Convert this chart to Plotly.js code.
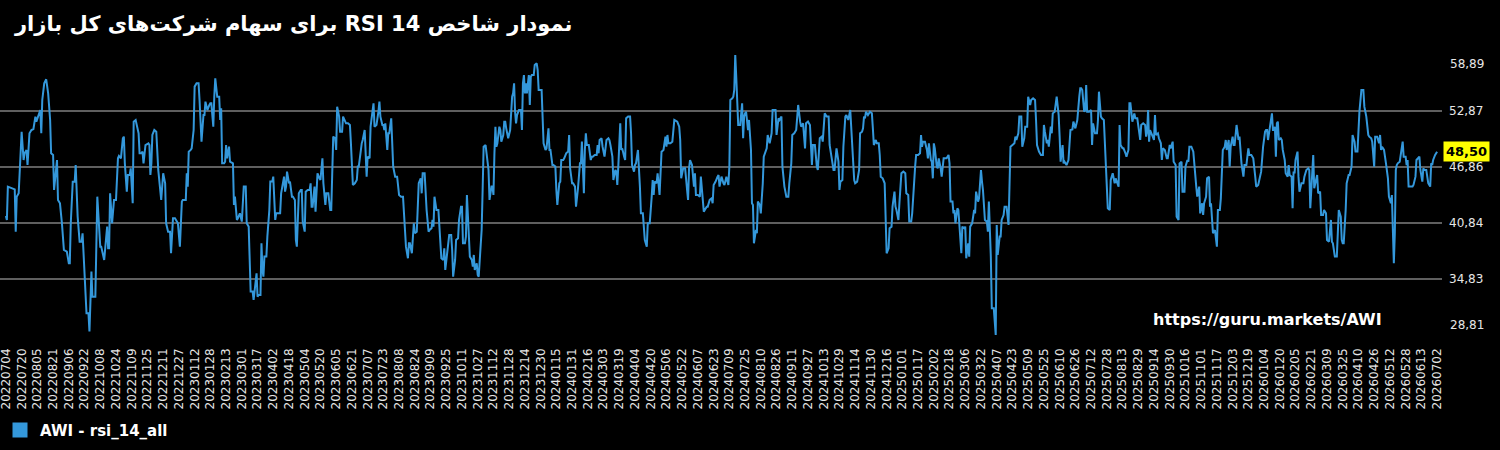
<!DOCTYPE html>
<html>
<head>
<meta charset="utf-8">
<script src="https://cdn.plot.ly/plotly-3.0.1.min.js"></script>
<style>html,body{margin:0;padding:0;background:#000;}#chart{width:1500px;height:450px;}</style>
</head>
<body>
<div id="chart"></div>
<script>
// Tick labels (one every 16 sessions, the last one is the final session)
const tickLabels = [
"20220704","20220720","20220805","20220821","20220906","20220922","20221008","20221024","20221109","20221125","20221211","20221227",
"20230112","20230128","20230213","20230301","20230317","20230402","20230418","20230504","20230520","20230605","20230621","20230707","20230723","20230808","20230824","20230909","20230925","20231011","20231027","20231112","20231128","20231214","20231230",
"20240115","20240131","20240216","20240303","20240319","20240404","20240420","20240506","20240522","20240607","20240623","20240709","20240725","20240810","20240826","20240911","20240927","20241013","20241029","20241114","20241130","20241216",
"20250101","20250117","20250202","20250218","20250306","20250322","20250407","20250423","20250509","20250525","20250610","20250626","20250712","20250728","20250813","20250829","20250914","20250930","20251016","20251101","20251117","20251203","20251219",
"20260104","20260120","20260205","20260221","20260309","20260325","20260410","20260426","20260512","20260528","20260613","20260702"
];
const sessionsPerTick = 16;

// Session index of each read point
const sessionIndex = [
0,1,2,8,9,10,11,13,14,16, 18,19,21,22,24,26,28,30,31,33, 35,36,37,39,41,43,45,46,48,49, 52,53,55,57,59,62,64,65,66,68,
70,71,73,75,77,78,80,82,84,85, 87,88,91,93,96,97,100,101,103,104, 105,106,108,110,112,114,115,117,119,120, 121,123,124,126,127,129,130,132,133,135,
136,138,139,140,142,145,146,147,148,149, 151,153,155,157,158,160,162,163,165,167, 168,170,172,175,177,179,180,
183,184,185,186,188,189,191,192,194,196, 197,199,201,202,203,205,207,208,209,211, 212,213,215,217,218,219,220,222,223,224, 225,227,228,230,231,232,233,235,236,238,
239,240,242,244,245,247,249,251,252,253, 255,256,257,259,260,261,262,263,265,266, 268,269,271,272,274,275,279,280,281,283, 284,285,286,288,289,291,292,294,295,296,
298,300,301,302,304,305,307,309,310,311, 312,314,315,317,319,320,322,323,325,326, 328,330,331,332,333,335,336,337,339,340, 342,343,345,346,348,350,351,353,355,357, 358,359,
362,363,365,366,367,368,370,371,374,375, 377,379,380,381,383,384,385,386,388,389, 390,392,393,394,396,398,400,402,404,406, 407,409,410,411,413,415,416,418,419,420,
422,423,424,426,428,430,431,433,434,435, 436,438,440,441,443,445,446,447,449,451, 453,454,455,457,458,460,461,463,464,465, 467,468,469,470,472,474,475,476,477,479,
480,481,483,484,485,486,488,490,491,492, 494,495,496,497,498,499,500,502,503,504, 506,507,508,509,511,513,514,515,516,517, 518,519,520,522,524,525,526,527,528,529,
530,532,533,534,535,537,538,540,541,542, 543,545,546,547,
549,550,552,553,554,556,557,559,560,561, 563,564,565,567,568,570,572,573,574,576, 577,579,580,581,582,584,585,586,588,589, 590,591,593,595,596,597,599,601,602,603,
604,606,607,609,611,613,614,615,617,618, 620,621,622,623,625,626,627,629,630,631, 633,635,636,637,639,640,641,643,644,645, 646,648,650,652,653,655,657,658,659,660,
662,663,665,666,667,669,671,672,673,674, 676,678,679,680,683,685,686,687,689,691, 693,694,695,696,698,699,700,701,702,704, 706,707,709,710,711,713,714,716,718,719,
720,722,724,725,726,728,730,
731,733,735,736,737,739,740,741,742,743, 744,745,747,748,749,750,751,752,753,755, 756,758,759,760,761,763,764,765,767,768, 770,771,773,774,775,777,779,780,782,783,
784,786,787,789,790,792,794,796,797,799, 800,802,804,805,806,808,809,811,813,814, 816,818,819,820,821,823,825,826,828,830, 831,833,835,837,838,840,842,843,845,847,
848,849,851,852,854,855,857,859,860,861, 863,864,866,868,869,871,872,873,874,875, 877,879,881,882,883,885,886,888,889,890, 892,894,895,896,898,899,901,902,904,905,
906,908,909,911,913,
915,916,918,919,921,922,924,925,926,928, 930,931,932,933,935,937,938,939,941,942, 943,944,945,947,948,949,951,952,954,955, 957,959,960,961,963,964,965,966,968,969,
971,972,973,975,976,977,979,980,981,983, 985,986,987,989,990,992,993,994,996,998, 999,1000,1002,1003,1005,1007,1008,1009,1011,1012, 1013,1015,1016,1018,1020,1021,1022,1024,1026,1027,
1028,1030,1031,1033,1034,1036,1037,1039,1040,1042, 1043,1045,1047,1048,1049,1051,1053,1055,1056,1057, 1059,1060,1061,1063,1064,1065,1067,1069,1071,1072, 1073,1075,1076,1077,1079,1081,1082,1083,1085,1086,
1088,1090,1092,1093,1094,1095,1097,
1098,1099,1100,1102,1104,1105,1106,1108,1110,1111, 1112,1114,1115,1117,1118,1120,1121,1123,1124,1126, 1128,1129,1131,1132,1133,1134,1136,1137,1139,1140, 1142,1143,1144,1146,1148,1149,1151,1153,1154,1155,
1157,1159,1160,1161,1162,1163,1164,1166,1168,1169, 1170,1172,1173,1175,1176,1177,1179,1181,1182,1184, 1185,1187,1188,1190,1191,1193,1194,1196,1197,1199, 1200,1202,1203,1204,1206,1208,1210,1211,1212,1214,
1215,1217,1218,1219,1221,1222,1224,1225,1226,1228, 1230,1232,1233,1235,1236,1237,1238,1240,1241,1242, 1244,1245,1246,1248,1249,1250,1252,1254,1255,1257, 1259,1260,1262,1264,1265,1267,1269,1271,1272,1274,
1276,1277,1279,1281,
1282,1283,1284,1285,1286,1288,1289,1290,1291,1292, 1293,1294,1295,1297,1298,1299,1301,1302,1304,1305, 1306,1308,1309,1310,1311,1312,1314,1315,1316,1318, 1320,1321,1323,1325,1326,1327,1329,1330,1331,1333,
1334,1335,1337,1338,1340,1341,1343,1344,1346,1348, 1349,1350,1352,1354,1355,1356,1358,1359,1360,1361, 1363,1364,1366,1367,1369,1370,1372,1373,1375,1376, 1377,1379,1381,1382,1384,1386,1387,1389,1390,1392,
1393,1395,1397,1398,1399,1400,1402,1404,1406,1407, 1409,1410,1411,1412,1413,1414,1415,1416,1418,1419, 1421,1422,1424,1425,1426,1427,1429,1431,1432,1434, 1435,1437,1438,1439,1441,1442,1443,1445,1446,1447,
1449,1450,1451,1452,1454,1456
];

// RSI 14 values
const rsiValues = [
41.60,41.17,44.75,44.57,44.46,39.91,43.67,44.03,46.90,50.65, 47.61,48.33,48.69,47.07,50.48,50.83,50.94,52.27,51.73,52.44, 52.98,50.48,54.06,55.85,56.28,54.77,51.91,48.33,48.15,44.39, 47.61,43.32,42.96,40.81,37.95,37.77,36.51,36.51,40.81,45.28,
45.28,47.07,41.53,38.84,38.84,39.74,35.80,31.14,31.14,29.18, 35.62,32.93,32.93,43.67,38.30,38.30,36.87,37.95,40.45,38.12, 38.12,44.03,40.81,43.32,43.32,47.79,48.04,47.79,49.94,50.12, 47.25,44.21,46.00,46.00,46.72,42.96,51.73,51.91,51.37,50.48,
48.33,48.33,48.51,47.25,49.22,49.40,49.22,46.00,47.25,50.30, 50.83,50.65,46.54,44.03,43.32,46.18,45.11,40.81,39.91,39.91, 37.59,41.35,41.35,40.81,38.30,43.14,43.32,
43.32,46.18,44.75,48.51,48.69,48.86,50.83,55.49,55.85,55.85, 54.06,49.58,52.44,52.44,53.88,52.98,53.52,53.70,53.70,51.19, 54.41,56.38,54.41,54.41,51.91,53.16,47.25,47.25,47.43,49.22, 47.79,49.04,47.43,47.25,47.25,42.78,43.67,41.17,41.35,41.88,
41.35,40.99,44.75,44.75,40.81,40.45,33.47,33.47,32.57,33.47, 35.44,32.93,33.11,33.11,38.66,35.80,35.08,37.23,37.23,39.38, 42.24,45.29,45.29,45.82,41.17,41.88,41.88,44.03,44.75,45.82, 44.21,44.75,46.36,45.11,45.29,43.67,43.67,43.32,39.02,38.30,
44.03,44.39,44.39,40.99,39.91,44.21,44.39,44.39,45.11,42.60, 42.60,44.75,42.06,46.18,45.64,45.46,47.79,45.11,42.78,44.03, 44.03,42.24,42.24,46.54,50.12,49.94,48.69,53.34,52.27,50.65, 50.65,52.27,51.73,51.55,51.55,51.37,49.40,44.93,45.11,45.46, 46.90,46.90,
49.40,49.76,50.83,46.90,45.82,47.97,47.79,51.19,53.70,51.19, 51.37,52.80,53.88,52.27,51.37,51.37,50.83,51.55,48.69,50.48, 50.48,52.09,50.12,46.90,45.82,45.82,43.85,43.67,43.67,40.81, 38.30,37.05,38.66,38.66,37.59,40.81,39.74,39.91,44.03,45.11,
45.64,44.03,46.18,46.18,42.24,39.91,40.09,40.27,41.17,40.45, 43.67,42.24,42.24,40.81,37.05,36.87,38.12,35.80,37.95,39.56, 39.56,37.95,35.08,36.87,39.02,39.20,41.17,42.60,42.60,38.66, 38.66,39.38,43.85,41.17,37.23,36.87,36.15,37.41,35.80,36.51,
35.26,35.08,37.95,40.09,44.39,49.04,49.22,47.07,46.54,43.32, 44.75,44.75,43.85,48.33,51.19,49.04,49.40,51.19,50.83,49.58, 50.30,51.73,51.73,51.01,49.94,50.83,52.44,54.41,54.77,55.85, 52.80,51.55,52.44,52.98,52.98,50.83,55.85,56.74,54.77,55.85,
54.77,56.74,53.52,56.56,56.74,56.74,57.81,58.00,57.28,55.13, 55.13,55.13,52.27,49.40,
48.69,48.86,51.01,48.69,48.69,47.07,47.07,46.90,44.39,42.78, 45.11,45.29,47.61,47.61,47.79,48.33,48.51,50.30,46.72,45.11, 45.11,44.75,42.60,43.32,44.57,47.25,47.25,49.58,44.03,48.69, 50.48,49.22,49.22,47.61,47.97,47.97,48.15,48.15,49.22,48.33,
49.76,49.94,49.04,47.97,49.76,49.94,49.76,49.22,47.97,45.46, 46.54,46.36,44.93,46.90,51.55,48.69,48.86,47.97,47.61,52.09, 52.27,52.27,50.48,47.07,46.36,47.07,47.25,48.69,47.25,44.75, 41.88,41.88,39.02,38.30,40.81,40.81,43.67,45.46,43.85,45.29,
45.11,46.18,43.85,46.18,48.51,48.69,50.12,49.04,50.30,49.40, 49.40,49.58,51.01,51.91,51.73,51.19,49.76,45.64,46.72,46.72, 44.39,43.32,46.72,47.61,47.07,45.29,44.75,46.18,43.85,43.85, 43.67,45.82,42.78,42.06,42.24,42.60,42.60,43.32,43.49,42.96,
44.93,45.29,45.82,46.00,44.75,45.82,45.11,
44.93,45.82,44.93,46.90,54.06,54.23,54.41,55.13,58.89,56.56, 52.62,51.37,51.37,52.98,53.70,49.94,52.27,52.62,52.80,50.83, 51.91,48.69,42.96,42.78,38.66,40.09,39.74,43.14,42.78,41.88, 45.11,47.97,48.69,48.86,50.30,49.40,50.48,52.98,52.98,52.98,
50.30,52.09,51.91,52.27,46.90,44.75,43.67,43.67,45.11,47.25, 50.30,50.48,50.83,52.09,53.52,51.73,51.19,51.55,48.86,51.55, 51.73,51.37,48.51,47.07,49.22,49.22,46.90,46.54,49.94,50.12, 49.58,52.62,52.27,52.27,49.22,47.97,46.54,46.54,48.86,47.43,
44.39,45.29,45.46,49.04,52.27,52.44,51.91,52.98,50.83,48.33, 45.46,45.11,45.29,46.54,50.48,50.65,51.01,52.27,52.09,52.80, 52.44,52.80,52.62,51.01,49.22,49.76,49.40,49.40,48.15,45.82, 45.64,45.11,41.17,37.59,38.12,40.27,40.45,42.60,44.21,42.60,
42.24,41.17,42.96,46.18,46.36,
46.18,44.03,43.85,40.99,40.99,41.88,45.82,46.90,48.15,48.15, 48.33,50.30,49.04,49.58,49.58,48.69,47.79,49.40,47.61,47.43, 45.64,49.40,48.86,46.90,46.72,47.79,46.72,45.82,47.79,47.79, 47.79,48.15,47.25,43.14,43.14,41.88,42.24,40.81,42.42,42.24,
39.02,37.59,40.45,40.27,40.45,37.05,38.66,37.23,40.45,40.81, 42.24,41.88,44.21,43.14,43.49,46.54,45.29,44.39,41.17,40.99, 39.91,43.14,37.23,31.68,31.68,28.81,40.63,37.41,39.38,39.38, 41.17,41.70,42.60,42.60,40.63,45.82,49.04,49.22,49.40,50.12,
49.76,50.48,52.27,52.27,49.04,49.94,51.19,51.19,54.41,53.52, 54.06,54.23,54.06,51.91,49.22,48.51,48.15,48.15,51.37,50.65, 49.40,49.76,49.04,51.19,50.48,52.62,52.80,54.41,52.44,50.12, 47.43,49.22,47.25,47.43,47.07,47.61,49.04,50.83,50.90,51.73,
51.01,51.91,54.41,55.31,55.31,55.13,52.80,
52.98,55.67,52.80,52.80,52.98,49.22,51.55,50.48,50.48,51.91, 54.95,52.27,52.09,51.91,49.58,46.18,42.42,42.24,45.46,46.18, 45.11,45.64,45.11,44.75,51.37,49.22,48.86,48.86,48.33,47.97, 48.69,53.70,53.70,51.73,52.62,52.09,52.09,50.83,49.76,51.37,
51.55,51.37,50.12,50.65,52.98,49.58,50.83,50.30,49.76,52.44, 50.30,50.48,49.94,49.40,47.61,48.86,48.69,47.79,47.79,49.22, 48.86,49.58,47.43,47.07,41.53,41.17,47.25,47.43,44.21,44.21, 46.90,47.61,47.43,49.04,49.04,48.51,45.46,44.75,43.67,44.75,
41.88,42.96,41.70,42.96,43.67,45.64,45.82,42.60,42.96,39.74, 40.09,38.30,42.24,42.24,43.49,46.36,48.69,49.04,49.76,48.69, 49.76,46.90,49.04,50.12,49.22,49.22,51.37,49.76,50.12,47.25, 45.82,47.07,47.07,48.86,48.15,48.15,47.79,45.82,44.75,44.93,
45.82,46.36,49.04,50.65,
50.83,50.83,49.76,50.83,51.19,52.62,50.83,50.83,51.19,47.97, 51.55,51.73,49.76,49.94,49.76,48.69,47.61,46.18,45.82,47.07, 46.00,45.82,42.42,46.36,46.18,47.61,48.51,45.82,44.21,45.11, 45.11,45.82,46.54,46.72,46.54,42.42,46.54,48.15,44.57,45.82,
46.00,44.03,44.21,41.70,41.70,42.24,41.88,39.02,38.84,41.17, 38.84,38.66,37.23,37.23,41.17,42.24,41.53,39.02,38.66,38.66, 42.24,45.11,46.00,46.00,46.90,50.30,49.58,48.51,48.51,51.19, 52.80,55.13,55.13,53.34,52.27,50.30,50.12,49.94,49.58,46.90,
50.12,50.12,49.40,50.30,48.69,49.04,48.69,47.25,45.64,43.67, 42.96,43.85,40.45,36.51,39.74,46.54,47.07,47.25,47.43,48.33, 49.58,47.97,47.97,47.07,47.61,44.75,44.75,44.75,44.93,45.82, 47.61,47.79,47.97,46.54,45.29,46.72,46.54,46.54,45.64,45.11,
44.75,47.25,47.07,47.61,48.15,48.50
];

const seriesName = "AWI - rsi_14_all";
const chartTitle = "نمودار شاخص RSI 14 برای سهام شرکت\u200cهای کل بازار";
const watermark = "https://guru.markets/AWI";
const lineColor = "#3498db";

if (sessionIndex.length !== rsiValues.length) console.error("length mismatch", sessionIndex.length, rsiValues.length);

const yMin = Math.min(...rsiValues), yMax = Math.max(...rsiValues);
const yTicks = [0,1,2,3,4,5].map(i => yMin + (yMax - yMin) * i / 5);
const fmt = v => v.toFixed(2).replace('.', ',');
const lastValue = rsiValues[rsiValues.length - 1];
const lastSession = (tickLabels.length - 1) * sessionsPerTick;
const font = "DejaVu Sans";

const traces = [
  {x: sessionIndex, y: rsiValues, type: "scatter", mode: "lines",
   line: {color: lineColor, width: 2}, showlegend: false, hoverinfo: "skip"},
  {x: [null], y: [null], type: "scatter", mode: "markers", name: seriesName,
   marker: {symbol: "square", size: 15, color: lineColor}, showlegend: true}
];

const layout = {
  width: 1500, height: 450,
  paper_bgcolor: "#000", plot_bgcolor: "#000",
  margin: {l: 0, r: 58, t: 55, b: 115},
  font: {family: font, color: "#e6e6e6"},
  title: {text: "<b>\u202B" + chartTitle + "\u202C</b>", x: 0.01, xanchor: "left",
          xref: "container", y: 0.947, yanchor: "middle", yref: "container",
          font: {family: font, size: 21, color: "#ffffff"}},
  xaxis: {range: [-6, lastSession + 5], tickmode: "array",
          tickvals: tickLabels.map((_, i) => i * sessionsPerTick),
          ticktext: tickLabels, tickangle: -90, showgrid: false, zeroline: false,
          showline: false, ticks: "", ticklabelstandoff: 10, ticklabeloverflow: "allow",
          tickfont: {family: font, size: 12, color: "#e6e6e6"}},
  yaxis: {side: "right", range: [yMin, yMax], tickmode: "array", tickvals: yTicks,
          ticktext: yTicks.map((v, i) => (i === 0 || i === 5) ? "" : fmt(v)),
          showgrid: true, gridcolor: "#5f5f5f", gridwidth: 1.5, zeroline: false,
          showline: false, ticks: "", ticklabelstandoff: 6,
          tickfont: {family: font, size: 12, color: "#e6e6e6"}},
  showlegend: true,
  legend: {x: 0, xanchor: "left", y: -0.34, yanchor: "middle", orientation: "h",
           bgcolor: "rgba(0,0,0,0)", font: {family: font, size: 15, color: "#ffffff", weight: "bold"}},
  annotations: [
    {xref: "paper", yref: "y", x: 1, y: yMax, xanchor: "left", yanchor: "middle",
     xshift: 6, yshift: -9, showarrow: false, text: fmt(yMax),
     font: {family: font, size: 12, color: "#e6e6e6"}},
    {xref: "paper", yref: "y", x: 1, y: yMin, xanchor: "left", yanchor: "middle",
     xshift: 6, yshift: 10, showarrow: false, text: fmt(yMin),
     font: {family: font, size: 12, color: "#e6e6e6"}},
    {xref: "paper", yref: "y", x: 1, y: lastValue, xanchor: "left", yanchor: "middle",
     xshift: 1, showarrow: false, text: "<b>" + fmt(lastValue) + "</b>",
     bgcolor: "#ffff00", borderpad: 2, font: {family: font, size: 13, color: "#000"}},
    {xref: "paper", yref: "paper", x: 0.96, y: 0.054, xanchor: "right", yanchor: "middle",
     showarrow: false, text: "<b>" + watermark + "</b>",
     font: {family: font, size: 16, color: "#ffffff"}}
  ]
};

Plotly.newPlot("chart", traces, layout, {staticPlot: true, displayModeBar: false});
</script>
</body>
</html>
